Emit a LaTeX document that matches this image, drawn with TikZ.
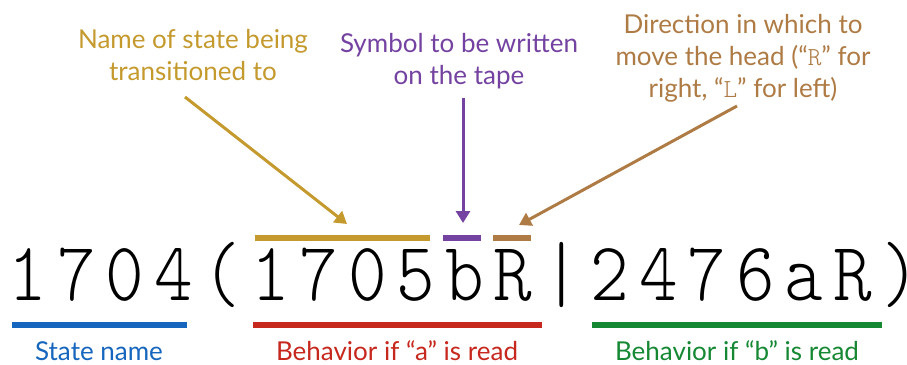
\documentclass[tikz,border=0pt]{standalone}
\usepackage{fontspec}
\setmainfont{Lato}
\newfontfamily\tapefont{lmmonolt10-regular.otf}
\usetikzlibrary{arrows.meta}
\definecolor{namegold}{RGB}{196,154,46}
\definecolor{symbpurple}{RGB}{116,66,160}
\definecolor{dirbrown}{RGB}{174,123,69}
\definecolor{stateblue}{RGB}{22,102,190}
\definecolor{behred}{RGB}{198,40,30}
\definecolor{behgreen}{RGB}{22,136,52}
\newcommand{\tapeopen}{(}
\newcommand{\tapeclose}{)}
\tikzset{
	bar/.style={line width=6pt},
	pointer/.style={line width=3pt,-{Triangle[length=12pt,width=14pt]}},
	note/.style={inner sep=0pt,align=center,font=\fontsize{26}{32}\selectfont},
	tapechar/.style={inner xsep=-8pt,inner ysep=0pt,anchor=base,xscale=0.88,transform shape,
		font=\tapefont\fontsize{83.5}{83.5}\selectfont},
}
\begin{document}
\begin{tikzpicture}[x=1pt,y=-1pt]
		\useasboundingbox (0,0) rectangle (907,364);
		% the transition written on the tape, one cell per character
		\pgfmathsetmacro{\pitch}{48.5}
		\foreach \c [count=\i from 0] in {1,7,0,4,\tapeopen,1,7,0,5,b,R,|,2,4,7,6,a,R,\tapeclose}
			\node[tapechar](ch\i) at (28+\pitch*\i,300) {\c};
		% bars above the first behaviour
		\draw[bar,namegold](255,238)--(430,238);
		\draw[bar,symbpurple](443,238)--(481,238);
		\draw[bar,dirbrown](493,238)--(531,238);
		\coordinate (nametip) at (347,224);
		\coordinate (symbtip) at (463,223);
		\coordinate (dirtip) at (519,225);
		% bars below
		\draw[bar,stateblue](12,325)--(187,325);
		\draw[bar,behred](253,325)--(542,325);
		\draw[bar,behgreen](592,325)--(882,325);
		% notes
		\node[note,text=namegold,anchor=north](namenote) at (193,29)
			{Name of state being\\transitioned to};
		\node[note,text=symbpurple,anchor=north](symbnote) at (459,33)
			{Symbol to be written\\on the tape};
		\node[note,text=dirbrown,anchor=north](dirnote) at (743,14)
			{Direction in which to\\move the head (“{\tapefont R}” for\\right, “{\tapefont L}” for left)};
		\node[note,text=stateblue,anchor=base](statenote) at (99,360) {State name};
		\node[note,text=behred,anchor=base](rednote) at (397,360) {Behavior if “a” is read};
		\node[note,text=behgreen,anchor=base](greennote) at (737,360) {Behavior if “b” is read};
		% pointers
		\coordinate (namefoot) at (185,97);
		\coordinate (symbfoot) at (463,98);
		\coordinate (dirfoot) at (737,106);
		\draw[pointer,namegold](namefoot)--(nametip);
		\draw[pointer,symbpurple](symbfoot)--(symbtip);
		\draw[pointer,dirbrown](dirfoot)--(dirtip);
	\end{tikzpicture}
\end{document}
